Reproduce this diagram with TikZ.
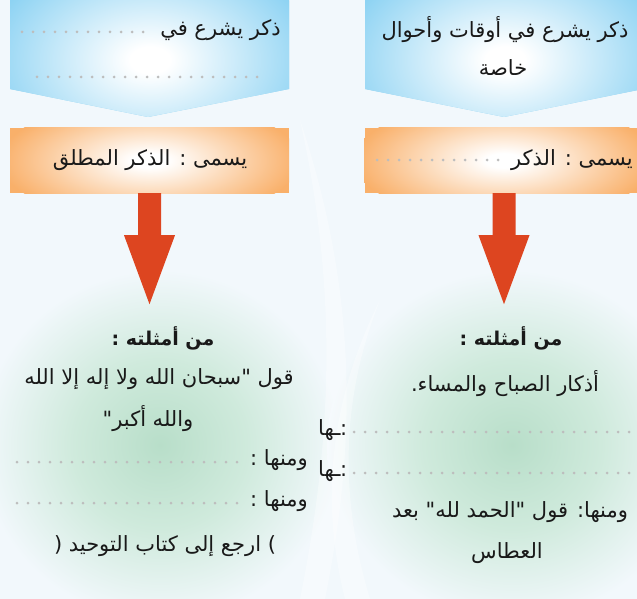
\documentclass[tikz,border=0pt]{standalone}
\usepackage{fontspec}
\newfontfamily\arabicfont[Script=Arabic]{DejaVu Sans}
\TeXXeTstate=1
\usetikzlibrary{calc}
\definecolor{bgc}{HTML}{F2F8FC}
\definecolor{bluec}{HTML}{8ED3F3}
\definecolor{orc}{HTML}{F9B06A}
\definecolor{glowc}{HTML}{B8DEC9}
\definecolor{glowm}{HTML}{CFEADC}
\definecolor{redc}{HTML}{DD4520}
\definecolor{dotc}{HTML}{BDBDBD}
\pgfdeclareradialshading{bluesh}{\pgfpointorigin}{color(0bp)=(white); color(3bp)=(white); color(25bp)=(bluec); color(50bp)=(bluec)}
\pgfdeclareradialshading{orsh}{\pgfpointorigin}{color(0bp)=(white); color(3bp)=(white); color(25bp)=(orc); color(50bp)=(orc)}
\pgfdeclareradialshading{glowsh}{\pgfpointorigin}{color(0bp)=(glowc); color(12bp)=(glowm); color(25bp)=(bgc); color(50bp)=(bgc)}
\begin{document}
\begin{tikzpicture}[x=1pt,y=-1pt,
  ar/.style={font=\arabicfont\fontsize{21}{24}\selectfont, inner sep=0pt, text=black!90},
  arb/.style={ar, font=\arabicfont\bfseries\fontsize{19}{22}\selectfont},
  dotline/.style={draw=dotc, line width=3pt, line cap=round, dash pattern=on 0pt off 11pt},
  bigarrow/.style={fill=redc},
  orbox/.style={minimum width=279pt, minimum height=65pt, inner sep=0pt, fill=orc,
    path picture={\shade[shading=orsh] (path picture bounding box.center) ellipse (150pt and 60pt);}}]
\useasboundingbox (0,0) rectangle (637,599);
\clip (0,0) rectangle (637,599);
\fill[bgc] (0,0) rectangle (637,599);
% glows
\shade[shading=glowsh] (160,445) ellipse (180 and 175);
\shade[shading=glowsh] (512,445) ellipse (185 and 175);
% faint white swooshes
\fill[white, opacity=0.35] (300,120) .. controls (340,300) and (330,450) .. (300,599) -- (325,599) .. controls (355,450) and (360,300) .. (300,120) -- cycle;
\fill[white, opacity=0.35] (380,300) .. controls (340,400) and (340,500) .. (370,599) -- (345,599) .. controls (320,500) and (330,400) .. (380,300) -- cycle;
% blue pentagons
\begin{scope}
\clip (10,0) -- (289,0) -- (289,89) -- (148,117) -- (10,89) -- cycle;
\fill[bluec] (0,0) rectangle (300,120);
\shade[shading=bluesh] (150,60) ellipse (165 and 110);
\end{scope}
\begin{scope}
\clip (365,0) -- (643,0) -- (643,89) -- (504,117) -- (365,89) -- cycle;
\fill[bluec] (360,0) rectangle (650,120);
\shade[shading=bluesh] (505,60) ellipse (165 and 110);
\end{scope}
% blue texts
\node[ar, anchor=east] (bl1) at (281,30) {\beginR ذكر يشرع في\endR};
\coordinate (bld1a) at (22,32);
\coordinate (bld1b) at (145,32);
\draw[dotline] (bld1a) -- (bld1b);
\coordinate (bld2a) at (37,77);
\coordinate (bld2b) at (262,77);
\draw[dotline] (bld2a) -- (bld2b);
\node[ar] (br1) at (505,30) {\beginR ذكر يشرع في أوقات وأحوال\endR};
\node[ar] (br2) at (503,68) {\beginR خاصة\endR};
% orange boxes
\node[orbox] (or1) at (149.5,160.5) {};
\node[orbox] (or2) at (504,160.5) {};
\node[ar] (ol) at (150,160) {\beginR يسمى : الذكر المطلق\endR};
\node[ar, anchor=east] (ort) at (633,160) {\beginR يسمى : الذكر\endR};
\coordinate (ord1) at (377,160);
\coordinate (ord2) at (500,160);
\draw[dotline] (ord1) -- (ord2);
% red arrows
\fill[bigarrow] (or1.south) ++(-11.5,0) -- ++(23,0) -- ++(0,42) -- ++(14,0) -- ++(-25.5,69) -- ++(-25.5,-69) -- ++(14,0) -- cycle;
\fill[bigarrow] (or2.south) ++(-11.5,0) -- ++(23,0) -- ++(0,42) -- ++(14,0) -- ++(-25.5,69) -- ++(-25.5,-69) -- ++(14,0) -- cycle;
% left bottom column
\node[arb] (l1) at (163,338) {\beginR من أمثلته :\endR};
\node[ar] (l2) at (159,379) {\beginR قول "سبحان الله ولا إله إلا الله\endR};
\node[ar] (l3) at (148,419) {\beginR والله أكبر"\endR};
\node[ar, anchor=east] (l4) at (308,460) {\beginR ومنها :\endR};
\coordinate (ld1a) at (17,462);
\coordinate (ld1b) at (240,462);
\draw[dotline] (ld1a) -- (ld1b);
\node[ar, anchor=east] (l5) at (308,501) {\beginR ومنها :\endR};
\coordinate (ld2a) at (17,503);
\coordinate (ld2b) at (240,503);
\draw[dotline] (ld2a) -- (ld2b);
\node[ar] (l6) at (165,546) {(\ \beginR ارجع إلى كتاب التوحيد\endR\ )};
% right bottom column
\node[arb] (r1) at (511,338) {\beginR من أمثلته :\endR};
\node[ar] (r2) at (505,384) {\beginR أذكار الصباح والمساء.\endR};
\node[ar, anchor=west] (r3) at (318,430) {\beginR ـها\endR};
\node[ar, anchor=west] (r3c) at (340,430) {:};
\coordinate (rd1a) at (354,432);
\coordinate (rd1b) at (640,432);
\draw[dotline] (rd1a) -- (rd1b);
\node[ar, anchor=west] (r4) at (318,471) {\beginR ـها\endR};
\node[ar, anchor=west] (r4c) at (340,471) {:};
\coordinate (rd2a) at (354,473);
\coordinate (rd2b) at (640,473);
\draw[dotline] (rd2a) -- (rd2b);
\node[ar] (r5) at (510,512) {\beginR ومنها: قول "الحمد لله" بعد\endR};
\node[ar] (r6) at (507,553) {\beginR العطاس\endR};
\end{tikzpicture}
\end{document}
